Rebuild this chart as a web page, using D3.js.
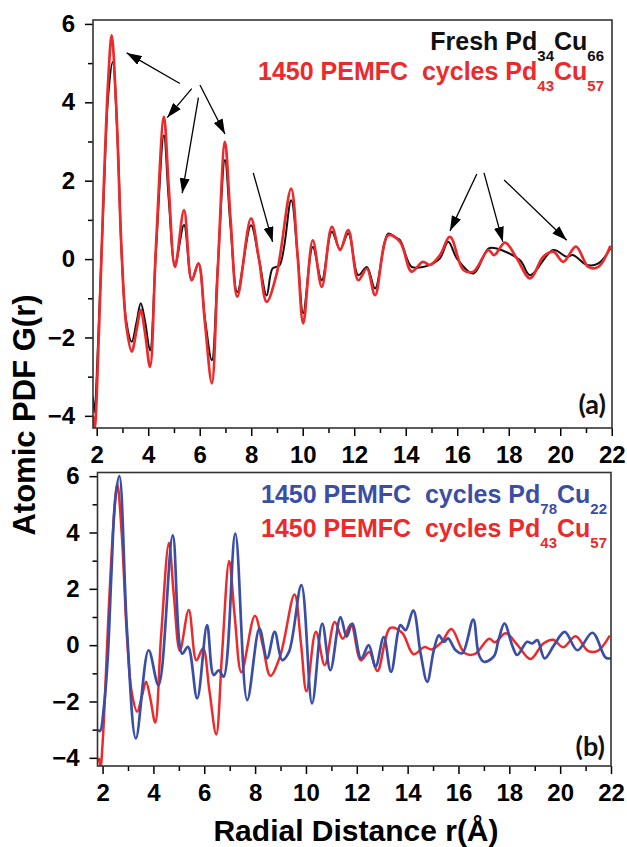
<!DOCTYPE html>
<html>
<head>
<meta charset="utf-8">
<script src="https://cdn.jsdelivr.net/npm/d3@7"></script>
<style>
  html, body { margin: 0; padding: 0; background: #fff; }
  svg { display: block; font-family: "Liberation Sans", Arial, sans-serif; font-weight: bold; }
</style>
</head>
<body>
<div id="chart"></div>
<script>
// Atomic PDF G(r) of Pd-Cu catalysts, fresh vs after 1450 PEMFC cycles

// Fresh Pd34Cu66 (black, panel a)
const freshR = [1.85, 1.92, 2.0, 2.26, 2.45, 2.62, 2.8, 2.97, 3.15, 3.36, 3.55, 3.71, 3.88, 4.07, 4.3, 4.61, 4.8, 5.04, 5.39, 5.69,
  5.95, 6.2, 6.47, 6.7, 6.98, 7.2, 7.46, 7.99, 8.3, 8.6, 8.83, 9.1, 9.55, 9.8, 10.02, 10.39, 10.74, 11.13, 11.45, 11.77,
  12.16, 12.49, 12.81, 13.32, 13.6, 13.78, 14.23, 14.66, 14.94, 15.33, 15.65, 16.0, 16.63, 17.21, 17.53, 18.44, 18.83, 19.73,
  20.25, 20.51, 21.03, 21.48, 21.95];
const freshG = [-3.5, -3.9, -3.0, 1.4, 4.2, 5.03, 3.2, 0.1, -1.6, -2.11, -1.6, -1.13, -1.6, -2.33, 0.2, 3.16, 1.5, -0.15, 0.87, -0.54,
  -0.11, -1.5, -2.58, -0.2, 2.53, 0.8, -0.84, 0.86, 0.0, -0.93, -0.24, -0.16, 1.5, 0.1, -1.38, 0.31, -0.54, 0.7, 0.25, 0.65,
  -0.41, -0.2, -0.75, 0.65, 0.55, 0.48, -0.2, -0.2, -0.15, 0.02, 0.44, 0.0, -0.37, 0.27, 0.27, -0.03, -0.41, 0.23,
  0.06, 0.1, -0.15, -0.11, 0.27];

// 1450 PEMFC cycles Pd43Cu57 (red, both panels)
const cycledR = [1.85, 1.92, 2.0, 2.26, 2.45, 2.58, 2.75, 2.97, 3.15, 3.36, 3.55, 3.71, 3.88, 4.07, 4.3, 4.61, 4.8, 5.04, 5.39, 5.69,
  5.95, 6.2, 6.47, 6.7, 6.98, 7.2, 7.46, 7.99, 8.3, 8.6, 8.99, 9.55, 9.8, 10.02, 10.39, 10.74, 11.13, 11.45, 11.77,
  12.16, 12.49, 12.81, 13.32, 13.78, 14.23, 14.66, 14.94, 15.33, 15.72, 16.24, 16.63, 17.21, 17.43, 17.86, 18.31, 18.83,
  19.34, 19.73, 20.12, 20.61, 21.09, 21.48, 21.95];
const cycledG = [-4.0, -4.3, -3.5, 1.59, 4.6, 5.71, 4.0, 0.15, -1.7, -2.36, -1.8, -1.3, -1.9, -2.75, 0.3, 3.63, 1.8, -0.2, 1.25, -0.54,
  -0.11, -1.6, -3.17, -0.3, 2.99, 1.0, -0.96, 1.04, 0.0, -1.09, -0.37, 1.8, 0.1, -1.64, 0.48, -0.71, 0.82, 0.23, 0.74,
  -0.54, -0.24, -0.92, 0.61, 0.44, -0.32, -0.07, -0.15, 0.1, 0.57, -0.28, -0.32, 0.23, 0.1, 0.42, 0.02, -0.49,
  0.06, 0.19, -0.07, 0.32, -0.2, -0.2, 0.34];

// 1450 PEMFC cycles Pd78Cu22 (blue, panel b)
const pdRichR = [1.8, 1.9, 2.05, 2.2, 2.35, 2.5, 2.66, 2.96, 3.31, 3.81, 4.2, 4.76, 5.13, 5.36, 5.72, 6.11, 6.37, 6.57, 6.76, 7.22,
  7.69, 8.17, 8.47, 8.77, 9.06, 9.33, 9.82, 10.24, 10.64, 10.96, 11.36, 11.6, 11.82, 12.17, 12.47, 12.74, 13.06, 13.35,
  13.72, 13.92, 14.22, 14.51, 14.77, 15.03, 15.23, 15.43, 15.59, 15.89, 16.15, 16.58, 16.8, 17.0, 17.39, 17.58, 17.81,
  18.11, 18.31, 18.7, 18.9, 19.1, 19.39, 19.76, 20.18, 20.68, 21.27, 21.79, 22.0];
const pdRichG = [-3.0, -3.05, -2.2, -0.5, 2.6, 5.2, 6.0, 0.53, -3.31, -0.18, -1.42, 3.9, -0.3, -0.06, -1.89, 0.71, -1.06, -0.89, -1.12, 3.96,
  -1.95, 0.59, -0.47, 0.47, -0.53, -0.24, 2.13, -2.07, 0.77, -0.89, 1.0, 0.3, 0.77, -0.47, 0.0, -0.77, 0.29, -0.95,
  0.71, 0.53, 1.24, -0.29, -1.3, -0.18, 0.35, 0.12, 0.24, -0.18, -0.29, 0.91, -0.33, -0.59, -0.4, 0.2, 0.77,
  0.0, -0.35, 0.12, 0.06, 0.18, -0.47, 0.0, 0.47, -0.18, 0.44, -0.44, -0.47];

// Axis ticks
const xMajor = [2, 4, 6, 8, 10, 12, 14, 16, 18, 20, 22];
const xMinor = [3, 5, 7, 9, 11, 13, 15, 17, 19, 21];
const yMajor = [-4, -2, 0, 2, 4, 6];
const yMinor = [-3, -1, 1, 3, 5];

// Annotation arrows in panel (a): [rFrom, gFrom, rTo, gTo]
const arrowsA = [
  [5.23, 4.48, 3.165, 5.26],
  [5.69, 4.35, 4.74, 3.61],
  [5.95, 4.12, 5.32, 1.68],
  [6.01, 4.44, 6.98, 3.19],
  [8.08, 2.20, 8.83, 0.44],
  [16.76, 2.17, 15.72, 0.72],
  [17.04, 2.20, 17.77, 0.44],
  [17.82, 2.02, 20.25, 0.48]
];

const colors = { fresh: "#111111", cycled: "#ec2a2c", pdRich: "#3a4ea6" };

const toPoints = (rs, gs) => rs.map((r, i) => ({ r: r, g: gs[i] }));

// 1) Panels layout
const panels = [
  {
    id: "a", left: 93, right: 612, top: 20, bottom: 428,
    xDomain: [1.856, 22.01], yDomain: [-4.31, 6.10],
    series: [
      { pts: toPoints(freshR, freshG), color: colors.fresh, width: 2 },
      { pts: toPoints(cycledR, cycledG), color: colors.cycled, width: 2.7 }
    ],
    legend: [
      { y: 50, color: colors.fresh, prefix: "Fresh ", s1: "34", s2: "66" },
      { y: 80, color: colors.cycled, prefix: "1450 PEMFC  cycles ", s1: "43", s2: "57" }
    ],
    legendRight: 604, tag: "(a)", tagY: 414
  },
  {
    id: "b", left: 97.5, right: 611, top: 472.5, bottom: 766,
    xDomain: [1.8, 22], yDomain: [-4.29, 6.13],
    series: [
      { pts: toPoints(cycledR, cycledG), color: colors.cycled, width: 2.5 },
      { pts: toPoints(pdRichR, pdRichG), color: colors.pdRich, width: 2.7 }
    ],
    legend: [
      { y: 503, color: colors.pdRich, prefix: "1450 PEMFC  cycles ", s1: "78", s2: "22" },
      { y: 537, color: colors.cycled, prefix: "1450 PEMFC  cycles ", s1: "43", s2: "57" }
    ],
    legendRight: 607, tag: "(b)", tagY: 756
  }
];

const svg = d3.select("#chart").append("svg")
  .attr("width", 627)
  .attr("height", 847);

const defs = svg.append("defs");
defs.append("marker")
  .attr("id", "arrowhead")
  .attr("viewBox", "0 0 15 10")
  .attr("refX", 15)
  .attr("refY", 5)
  .attr("markerWidth", 15)
  .attr("markerHeight", 10)
  .attr("markerUnits", "userSpaceOnUse")
  .attr("orient", "auto")
  .append("path")
  .attr("d", "M0,0 L15,5 L0,10 Z")
  .attr("fill", "#000");

panels.forEach(p => {
  const x = d3.scaleLinear().domain(p.xDomain).range([p.left, p.right]);
  const y = d3.scaleLinear().domain(p.yDomain).range([p.bottom, p.top]);

  defs.append("clipPath")
    .attr("id", "clip-" + p.id)
    .append("rect")
    .attr("x", p.left).attr("y", p.top)
    .attr("width", p.right - p.left).attr("height", p.bottom - p.top);

  // 2) Axes: minor then major ticks
  const styleAxis = g => {
    g.select(".domain").remove();
    g.selectAll(".tick line").attr("stroke", "#000").attr("stroke-width", 1.5);
    g.selectAll("text")
      .attr("fill", "#000")
      .style("font-size", "24px")
      .style("font-weight", "bold")
      .style("font-family", "\"Liberation Sans\", Arial, sans-serif");
  };

  svg.append("g")
    .attr("transform", `translate(0,${p.bottom})`)
    .call(d3.axisBottom(x).tickValues(xMinor).tickSize(5).tickFormat(""))
    .call(styleAxis);
  svg.append("g")
    .attr("transform", `translate(0,${p.bottom})`)
    .call(d3.axisBottom(x).tickValues(xMajor).tickSize(8).tickPadding(10).tickFormat(d3.format("d")))
    .call(styleAxis);

  svg.append("g")
    .attr("transform", `translate(${p.left},0)`)
    .call(d3.axisLeft(y).tickValues(yMinor).tickSize(5).tickFormat(""))
    .call(styleAxis);
  svg.append("g")
    .attr("transform", `translate(${p.left},0)`)
    .call(d3.axisLeft(y).tickValues(yMajor).tickSize(8).tickPadding(10).tickFormat(d3.format("d")))
    .call(styleAxis);

  // 3) Curves
  const line = d3.line()
    .x(d => x(d.r))
    .y(d => y(d.g))
    .curve(d3.curveCatmullRom.alpha(0.5));

  const plot = svg.append("g").attr("clip-path", `url(#clip-${p.id})`);
  p.series.forEach(s => {
    plot.append("path")
      .datum(s.pts)
      .attr("d", line)
      .attr("fill", "none")
      .attr("stroke", s.color)
      .attr("stroke-width", s.width)
      .attr("stroke-linejoin", "round");
  });

  // 4) Frame
  svg.append("rect")
    .attr("x", p.left).attr("y", p.top)
    .attr("width", p.right - p.left).attr("height", p.bottom - p.top)
    .attr("fill", "none")
    .attr("stroke", "#333")
    .attr("stroke-width", 1.6);

  // 5) Legend text with subscripts
  p.legend.forEach(l => {
    const t = svg.append("text")
      .attr("x", p.legendRight)
      .attr("y", l.y)
      .attr("text-anchor", "end")
      .attr("fill", l.color)
      .style("font-size", "25px")
      .style("white-space", "pre");
    t.append("tspan").text(l.prefix + "Pd");
    t.append("tspan").attr("dy", 11).style("font-size", "15px").text(l.s1);
    t.append("tspan").attr("dy", -11).text("Cu");
    t.append("tspan").attr("dy", 11).style("font-size", "15px").text(l.s2);
  });

  // 6) Panel tag
  svg.append("text")
    .attr("x", p.right - 6)
    .attr("y", p.tagY)
    .attr("text-anchor", "end")
    .attr("fill", "#111")
    .style("font-family", "Lato, \"Open Sans\", sans-serif")
    .style("font-size", "27px")
    .style("font-weight", "bold")
    .text(p.tag);

  // 7) Arrows (panel a only)
  if (p.id === "a") {
    svg.append("g")
      .selectAll("line")
      .data(arrowsA)
      .enter()
      .append("line")
      .attr("x1", d => x(d[0]))
      .attr("y1", d => y(d[1]))
      .attr("x2", d => x(d[2]))
      .attr("y2", d => y(d[3]))
      .attr("stroke", "#000")
      .attr("stroke-width", 1.3)
      .attr("marker-end", "url(#arrowhead)");
  }
});

// 8) Axis titles
svg.append("text")
  .attr("transform", "translate(35,415) rotate(-90)")
  .attr("text-anchor", "middle")
  .attr("fill", "#000")
  .style("font-size", "31px")
  .text("Atomic PDF G(r)");

svg.append("text")
  .attr("x", 356)
  .attr("y", 841)
  .attr("text-anchor", "middle")
  .attr("fill", "#000")
  .style("font-size", "30px")
  .text("Radial Distance r(Å)");
</script>
</body>
</html>
